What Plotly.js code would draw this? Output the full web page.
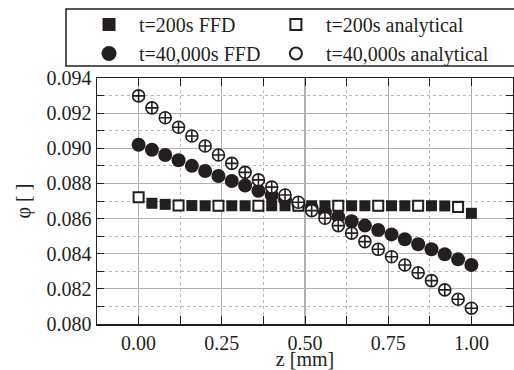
<!DOCTYPE html>
<html>
<head>
<meta charset="utf-8">
<script src="https://cdn.plot.ly/plotly-3.0.1.min.js"></script>
<style>html,body{margin:0;padding:0;background:#fff;}#chart{width:514px;height:370px;}</style>
</head>
<body>
<div id="chart"></div>
<script>
// Data
var zFFD = [0,0.04,0.08,0.12,0.16,0.20,0.24,0.28,0.32,0.36,0.40,0.44,0.48,0.52,0.56,0.60,0.64,0.68,0.72,0.76,0.80,0.84,0.88,0.92,0.96,1.00];
var phi200FFD = [0.08720,0.08687,0.08681,0.08676,0.08674,0.08673,0.08673,0.08673,0.08673,0.08673,0.08673,0.08673,0.08673,0.08673,0.08673,0.08673,0.08673,0.08673,0.08673,0.08673,0.08673,0.08673,0.08673,0.08672,0.08670,0.08630];
var phi40kFFD = [0.09020,0.08992,0.08962,0.08932,0.08900,0.08871,0.08842,0.08814,0.08788,0.08758,0.08733,0.08708,0.08684,0.08660,0.08635,0.08611,0.08585,0.08560,0.08535,0.08510,0.08482,0.08454,0.08425,0.08397,0.08368,0.08336];
var zAn200 = [0,0.12,0.24,0.36,0.48,0.60,0.72,0.84,0.96];
var phi200An = [0.08722,0.08674,0.08673,0.08673,0.08673,0.08673,0.08673,0.08673,0.08666];
var zAn40k = [0,0.04,0.08,0.12,0.16,0.20,0.24,0.28,0.32,0.36,0.40,0.44,0.48,0.52,0.56,0.60,0.64,0.68,0.72,0.76,0.80,0.84,0.88,0.92,0.96,1.00];
var phi40kAn = [0.09298,0.09230,0.09174,0.09120,0.09070,0.09013,0.08962,0.08914,0.08863,0.08820,0.08779,0.08734,0.08693,0.08645,0.08602,0.08560,0.08517,0.08469,0.08425,0.08383,0.08336,0.08292,0.08247,0.08194,0.08141,0.08090];
var legendNames = ['t=200s FFD','t=200s analytical','t=40,000s FFD','t=40,000s analytical'];
var xTitle = 'z [mm]';
var yTitle = 'φ [ ]';

var INK = '#231f20';
var FONT = 'Liberation Serif, serif';

var traces = [
  {x: zFFD, y: phi200FFD, mode: 'markers', type: 'scatter', showlegend: false,
   marker: {symbol: 'square', size: 11, color: INK, line: {width: 0}}},
  {x: zFFD, y: phi40kFFD, mode: 'markers', type: 'scatter', showlegend: false,
   marker: {symbol: 'circle', size: 14, color: INK, line: {width: 0}}},
  {x: zAn200, y: phi200An, mode: 'markers', type: 'scatter', showlegend: false,
   marker: {symbol: 'square', size: 10, color: '#ffffff', line: {width: 2, color: INK}}},
  {x: zAn40k, y: phi40kAn, mode: 'markers', type: 'scatter', showlegend: false,
   marker: {symbol: 'circle-cross', size: 12, color: '#ffffff', line: {width: 1.6, color: INK}}},
  // legend entries: left column (legend), right column (legend2)
  {x: [-5], y: [0.08], mode: 'markers', type: 'scatter', name: legendNames[0], legend: 'legend',
   marker: {symbol: 'square', size: 13, color: INK, line: {width: 0}}},
  {x: [-5], y: [0.08], mode: 'markers', type: 'scatter', name: legendNames[2], legend: 'legend',
   marker: {symbol: 'circle', size: 15, color: INK, line: {width: 0}}},
  {x: [-5], y: [0.08], mode: 'markers', type: 'scatter', name: legendNames[1], legend: 'legend2',
   marker: {symbol: 'square', size: 11, color: '#ffffff', line: {width: 2, color: INK}}},
  {x: [-5], y: [0.08], mode: 'markers', type: 'scatter', name: legendNames[3], legend: 'legend2',
   marker: {symbol: 'circle', size: 12, color: '#ffffff', line: {width: 2, color: INK}}}
];

function legendBox(xleft) {
  return {
    orientation: 'v', x: xleft, y: 1.2968, xanchor: 'left', yanchor: 'top',
    bgcolor: 'rgba(0,0,0,0)', borderwidth: 0, itemwidth: 50,
    font: {family: FONT, size: 20},
    traceorder: 'normal'
  };
}

var layout = {
  width: 514, height: 370,
  margin: {l: 97, r: 1, t: 78, b: 46, pad: 0},
  paper_bgcolor: '#ffffff', plot_bgcolor: '#ffffff',
  font: {family: FONT, size: 20, color: INK},
  showlegend: true,
  legend: legendBox(-0.0432),
  legend2: legendBox(0.406),
  xaxis: {
    range: [-0.125, 1.125], tickvals: [0, 0.25, 0.5, 0.75, 1.0],
    tickformat: '.2f', ticks: 'inside', ticklen: 8, tickwidth: 1, tickcolor: INK,
    showline: true, linecolor: INK, linewidth: 1.5, mirror: 'ticks',
    showgrid: true, gridcolor: '#b0b0b0', gridwidth: 1.2, zeroline: false,
    minor: {dtick: 0.125, tick0: 0, ticks: 'inside', ticklen: 8, tickcolor: INK, tickwidth: 1,
            showgrid: true, gridcolor: '#b8b8b8', griddash: 'dot', gridwidth: 1},
    tickfont: {family: FONT, size: 20},
    title: {text: xTitle, font: {family: FONT, size: 20}, standoff: 7},
    fixedrange: true
  },
  yaxis: {
    range: [0.080, 0.094], dtick: 0.002, tick0: 0.080,
    tickformat: '.3f', ticks: 'inside', ticklen: 7, tickwidth: 1, tickcolor: INK,
    showline: true, linecolor: INK, linewidth: 1.5, mirror: 'ticks',
    showgrid: true, gridcolor: '#b0b0b0', gridwidth: 1.2, zeroline: false,
    minor: {dtick: 0.001, tick0: 0.080, ticks: 'inside', ticklen: 7, tickcolor: INK, tickwidth: 1,
            showgrid: true, gridcolor: '#b8b8b8', griddash: 'dot', gridwidth: 1},
    tickfont: {family: FONT, size: 20},
    title: {text: yTitle, font: {family: FONT, size: 20}, standoff: 10},
    fixedrange: true
  },
  shapes: [
    {type: 'rect', xref: 'paper', yref: 'paper', x0: -0.0745, x1: 1.2, y0: 1.0488, y1: 1.2805,
     line: {color: INK, width: 1.5}, fillcolor: 'rgba(0,0,0,0)', layer: 'above'}
  ]
};

Plotly.newPlot('chart', traces, layout, {displayModeBar: false, staticPlot: true});
</script>
</body>
</html>
